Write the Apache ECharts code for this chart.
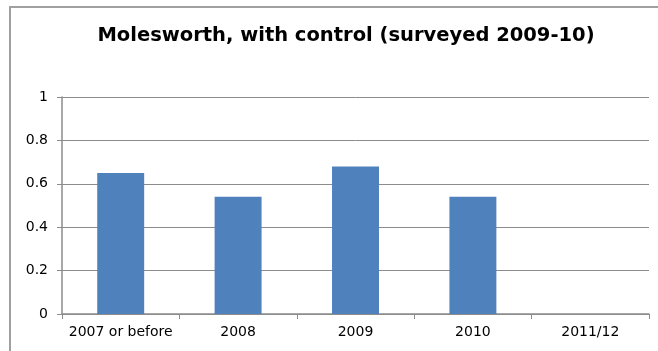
<!DOCTYPE html>
<html>
<head>
<meta charset="utf-8">
<script src="https://cdn.jsdelivr.net/npm/echarts@6/dist/echarts.min.js"></script>
<style>
  html, body { margin: 0; padding: 0; background: #fff; overflow: hidden; }
  #wrap { position: relative; width: 658px; height: 351px; overflow: hidden; }
  #chart { width: 658px; height: 351px; }
  /* chart-area frame: left and top edges only */
  #frame {
    position: absolute; left: 9px; top: 6px; width: 700px; height: 400px;
    border-left: 2px solid #a0a0a0; border-top: 2px solid #a0a0a0;
    pointer-events: none;
  }
</style>
</head>
<body>
<div id="wrap">
  <div id="chart"></div>
  <div id="frame"></div>
</div>
<script>
// Survey periods along the x axis
const categories = ['2007 or before', '2008', '2009', '2010', '2011/12'];
// Proportion per period (no value recorded for 2011/12)
const values = [0.65, 0.54, 0.68, 0.54, null];
// Value axis ticks
const yTicks = [0, 0.2, 0.4, 0.6, 0.8, 1];

const chart = echarts.init(document.getElementById('chart'), null, { renderer: 'canvas' });

const font = '"DejaVu Sans", sans-serif';

chart.setOption({
  animation: false,
  title: {
    text: 'Molesworth, with control (surveyed 2009-10)',
    left: 341,
    textAlign: 'center',
    top: 21,
    textStyle: { fontFamily: font, fontWeight: 'bold', fontSize: 19.5, color: '#000' }
  },
  grid: { left: 62, right: 9, top: 97, bottom: 37, containLabel: false },
  xAxis: {
    type: 'category',
    data: categories,
    axisLine: { lineStyle: { color: '#8c8c8c', width: 1.5 } },
    axisTick: { show: true, length: 5, alignWithLabel: false, lineStyle: { color: '#8c8c8c' } },
    axisLabel: { color: '#000', fontFamily: font, fontSize: 14, margin: 11, interval: 0 }
  },
  yAxis: {
    type: 'value',
    min: yTicks[0],
    max: yTicks[yTicks.length - 1],
    interval: 0.2,
    axisLine: { show: true, lineStyle: { color: '#8c8c8c', width: 1.5 } },
    axisTick: { show: true, length: 5, lineStyle: { color: '#8c8c8c' } },
    splitLine: { lineStyle: { color: '#8c8c8c', width: 1 } },
    axisLabel: {
      color: '#000', fontFamily: font, fontSize: 14, margin: 14,
      formatter: v => String(Math.round(v * 10) / 10)
    }
  },
  series: [{
    type: 'bar',
    data: values,
    barWidth: '40%',
    itemStyle: { color: '#4f81bd' }
  }]
});
</script>
</body>
</html>
